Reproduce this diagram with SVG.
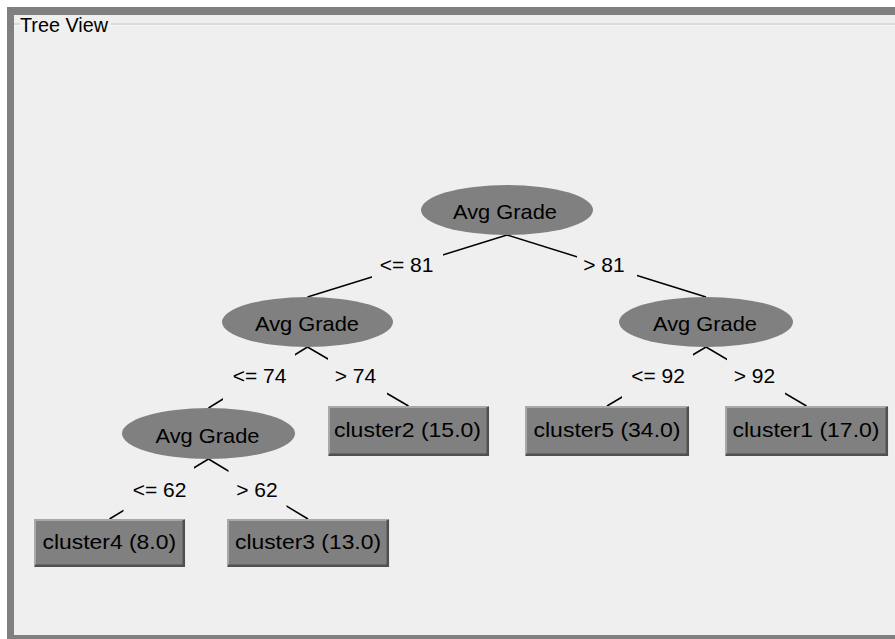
<svg xmlns="http://www.w3.org/2000/svg" width="895" height="639" viewBox="0 0 895 639">
  <style>
    text { font-family: "Liberation Sans", Arial, sans-serif; fill: #000; }
    .node { fill: #808080; }
    .nt { font-size: 21px; }
    .lbl { font-size: 21px; text-anchor: middle; }
    .edge { stroke: #000; stroke-width: 1.5; fill: none; }
    .lblbg { fill: #efefef; }
    .hi { stroke: #a8a8a8; stroke-width: 2; fill: none; }
    .lo { stroke: #505050; stroke-width: 2.5; fill: none; }
  </style>

  <!-- panel frame -->
  <rect x="0" y="0" width="895" height="639" fill="#ffffff"/>
  <rect x="7" y="7" width="888" height="632" fill="#808080"/>
  <rect x="14" y="15" width="881" height="620" fill="#efefef"/>

  <!-- titled border -->
  <g id="title">
    <rect x="14" y="23" width="6" height="2" fill="#d4dbe1"/>
    <rect x="111" y="23" width="784" height="2" fill="#d4dbe1"/>
    <rect x="14" y="25" width="881" height="1" fill="#f7f7f7"/>
    <text x="20" y="32" font-size="20" textLength="88" lengthAdjust="spacingAndGlyphs">Tree View</text>
  </g>

  <!-- connectors with their split labels -->
  <g id="connectors">
    <line class="edge" x1="507" y1="235" x2="307.5" y2="297"/>
    <line class="edge" x1="507" y1="235" x2="706" y2="297"/>
    <line class="edge" x1="307.5" y1="347" x2="208.5" y2="408"/>
    <line class="edge" x1="307.5" y1="347" x2="408.5" y2="406"/>
    <line class="edge" x1="706" y1="347" x2="607" y2="406"/>
    <line class="edge" x1="706" y1="347" x2="806.5" y2="406"/>
    <line class="edge" x1="208.5" y1="459" x2="109.5" y2="519"/>
    <line class="edge" x1="208.5" y1="459" x2="308" y2="519"/>

    <rect class="lblbg" x="372" y="242" width="71" height="48"/>
    <rect class="lblbg" x="577" y="242" width="60" height="48"/>
    <rect class="lblbg" x="223" y="353" width="72" height="48"/>
    <rect class="lblbg" x="328" y="353" width="59" height="48"/>
    <rect class="lblbg" x="622" y="353" width="71" height="48"/>
    <rect class="lblbg" x="727" y="353" width="58" height="48"/>
    <rect class="lblbg" x="123.5" y="465" width="70.5" height="48"/>
    <rect class="lblbg" x="228.5" y="465" width="58" height="48"/>

    <text class="lbl" x="406.5" y="272">&lt;= 81</text>
    <text class="lbl" x="604" y="272">&gt; 81</text>
    <text class="lbl" x="259.5" y="383">&lt;= 74</text>
    <text class="lbl" x="355.5" y="383">&gt; 74</text>
    <text class="lbl" x="658" y="383">&lt;= 92</text>
    <text class="lbl" x="754.5" y="383">&gt; 92</text>
    <text class="lbl" x="159.5" y="496.5">&lt;= 62</text>
    <text class="lbl" x="257" y="496.5">&gt; 62</text>
  </g>

  <!-- split nodes -->
  <g id="root">
    <ellipse class="node" cx="507" cy="210" rx="86" ry="25"/>
    <text class="nt" x="453" y="218.5" textLength="104" lengthAdjust="spacingAndGlyphs">Avg Grade</text>
  </g>
  <g id="split-left">
    <ellipse class="node" cx="307.5" cy="322" rx="85.5" ry="25"/>
    <text class="nt" x="255" y="331" textLength="104" lengthAdjust="spacingAndGlyphs">Avg Grade</text>
  </g>
  <g id="split-right">
    <ellipse class="node" cx="706" cy="322" rx="87" ry="25"/>
    <text class="nt" x="653" y="331" textLength="104" lengthAdjust="spacingAndGlyphs">Avg Grade</text>
  </g>
  <g id="split-low">
    <ellipse class="node" cx="208.5" cy="433.5" rx="86.5" ry="25.5"/>
    <text class="nt" x="155.5" y="442.5" textLength="104" lengthAdjust="spacingAndGlyphs">Avg Grade</text>
  </g>

  <!-- leaf nodes -->
  <g id="cluster2">
    <rect class="node" x="328" y="406" width="161" height="50"/>
    <polyline class="hi" points="329,455 329,407 488,407"/>
    <polyline class="lo" points="329,454.8 487.8,454.8 487.8,407"/>
    <text class="nt" x="334" y="437" textLength="147" lengthAdjust="spacingAndGlyphs">cluster2 (15.0)</text>
  </g>
  <g id="cluster5">
    <rect class="node" x="525" y="406" width="164" height="50"/>
    <polyline class="hi" points="526,455 526,407 688,407"/>
    <polyline class="lo" points="526,454.8 687.8,454.8 687.8,407"/>
    <text class="nt" x="533.5" y="437" textLength="147" lengthAdjust="spacingAndGlyphs">cluster5 (34.0)</text>
  </g>
  <g id="cluster1">
    <rect class="node" x="725" y="406" width="163" height="50"/>
    <polyline class="hi" points="726,455 726,407 887,407"/>
    <polyline class="lo" points="726,454.8 886.8,454.8 886.8,407"/>
    <text class="nt" x="732.5" y="437" textLength="147" lengthAdjust="spacingAndGlyphs">cluster1 (17.0)</text>
  </g>
  <g id="cluster4">
    <rect class="node" x="34" y="519" width="151" height="48"/>
    <polyline class="hi" points="35,566 35,520 184,520"/>
    <polyline class="lo" points="35,565.8 183.8,565.8 183.8,520"/>
    <text class="nt" x="42.5" y="548.5" textLength="133.5" lengthAdjust="spacingAndGlyphs">cluster4 (8.0)</text>
  </g>
  <g id="cluster3">
    <rect class="node" x="227" y="519" width="162" height="48"/>
    <polyline class="hi" points="228,566 228,520 388,520"/>
    <polyline class="lo" points="228,565.8 387.8,565.8 387.8,520"/>
    <text class="nt" x="235" y="548.5" textLength="146" lengthAdjust="spacingAndGlyphs">cluster3 (13.0)</text>
  </g>
</svg>
